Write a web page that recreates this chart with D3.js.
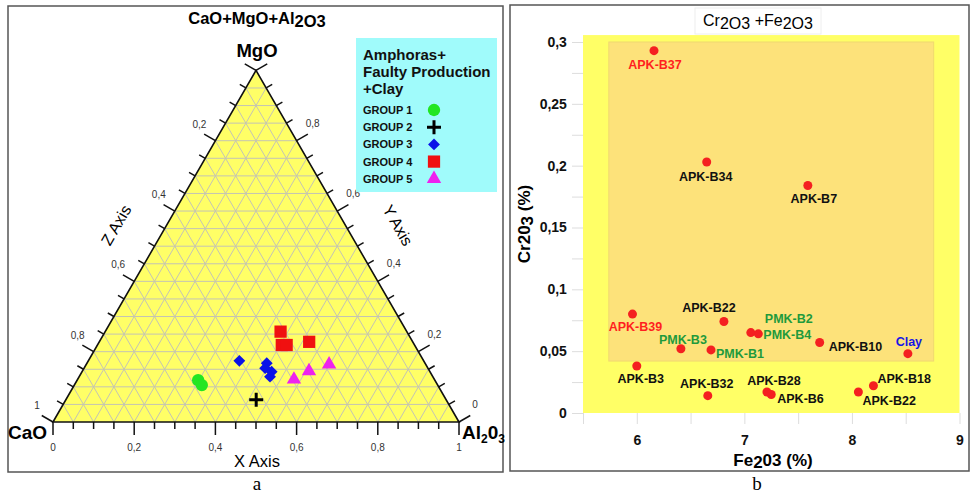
<!DOCTYPE html>
<html>
<head>
<meta charset="utf-8">
<script src="https://cdn.jsdelivr.net/npm/d3@7"></script>
<style>
  body { margin: 0; background: #fff; }
  svg { display: block; font-family: "Liberation Sans", Arial, sans-serif; }
</style>
</head>
<body>
<div id="chart"></div>
<script>
// ---- ternary data: [CaO, MgO, Al2O3] fractions ----
const group1 = [[0.583, 0.119, 0.298], [0.581, 0.105, 0.314]];
const group2 = [[0.468, 0.063, 0.469]];
const group3 = [[0.454, 0.174, 0.372], [0.390, 0.167, 0.443], [0.401, 0.153, 0.446], [0.390, 0.143, 0.467], [0.401, 0.129, 0.470]];
const group4 = [[0.311, 0.257, 0.432], [0.327, 0.219, 0.454], [0.315, 0.219, 0.466], [0.255, 0.228, 0.517]];
const group5 = [[0.346, 0.121, 0.533], [0.297, 0.145, 0.558], [0.238, 0.164, 0.598]];
const groupNames = ['GROUP 1', 'GROUP 2', 'GROUP 3', 'GROUP 4', 'GROUP 5'];
const ternTicks = [0, 0.2, 0.4, 0.6, 0.8, 1];

// ---- scatter data ----
const samples = ['APK-B37', 'APK-B34', 'APK-B7', 'APK-B39', 'APK-B22', 'PMK-B2', 'PMK-B4', 'APK-B10', 'Clay',
  'PMK-B3', 'PMK-B1', 'APK-B3', 'APK-B32', 'APK-B28', 'APK-B6', 'APK-B22', 'APK-B18'];
const fe2o3 = [6.16, 6.65, 7.59, 5.96, 6.81, 7.06, 7.13, 7.70, 8.52, 6.41, 6.69, 6.00, 6.66, 7.21, 7.25, 8.06, 8.20];
const cr2o3 = [0.293, 0.203, 0.184, 0.080, 0.074, 0.065, 0.064, 0.057, 0.048, 0.052, 0.051, 0.038, 0.014, 0.017, 0.015, 0.017, 0.022];
const sampleKind = ['red', 'black', 'black', 'red', 'black', 'green', 'green', 'black', 'blue',
  'green', 'green', 'black', 'black', 'black', 'black', 'black', 'black'];
const xTicks = [6, 7, 8, 9];
const yTicks = [0, 0.05, 0.1, 0.15, 0.2, 0.25, 0.3];

// label placement for each sample: [anchor, dx, dy]
const labelPlace = [
  ['middle', 1, 18], ['middle', -1, 19], ['middle', 6, 18], ['middle', 3, 17], ['middle', -15, -9],
  ['start', 14, -10], ['start', 5, 5], ['start', 9, 8], ['middle', 1, -8],
  ['middle', 2, -5], ['start', 5, 8], ['middle', 4, 17], ['middle', -1, -8], ['middle', 7, -7],
  ['start', 6, 9], ['start', 4, 13], ['start', 4, -3]
];

const kindColor = { red: '#ff1f1f', black: '#111', green: '#1f9a3c', blue: '#1515e6' };
const font = '"Liberation Sans", Arial, sans-serif';

const svg = d3.select('#chart').append('svg')
  .attr('width', 972)
  .attr('height', 493);

// panel frames
svg.append('rect').attr('x', 8).attr('y', 6).attr('width', 495).attr('height', 466)
  .attr('fill', 'none').attr('stroke', '#555').attr('stroke-width', 1.5);
svg.append('rect').attr('x', 510).attr('y', 5).attr('width', 459).attr('height', 466)
  .attr('fill', 'none').attr('stroke', '#555').attr('stroke-width', 1.5);
svg.append('text').attr('x', 257).attr('y', 490).attr('text-anchor', 'middle')
  .attr('font-family', '"Liberation Serif", "Times New Roman", serif').attr('font-size', 19).text('a');
svg.append('text').attr('x', 757).attr('y', 490).attr('text-anchor', 'middle')
  .attr('font-family', '"Liberation Serif", "Times New Roman", serif').attr('font-size', 19).text('b');

// ================= ternary =================
const tx = d3.scaleLinear().domain([0, 1]).range([53, 459]);
const ty = d3.scaleLinear().domain([0, 1]).range([422, 422 - 406 * Math.sqrt(3) / 2]);
// p = [CaO, MgO, Al2O3]
const tp = p => [tx(p[2] + p[1] / 2), ty(p[1])];

const tern = svg.append('g');

const lt = svg.append('text').attr('x', 257).attr('y', 24).attr('text-anchor', 'middle')
  .attr('font-size', 16.5).attr('font-weight', 'bold');
lt.append('tspan').text('CaO+MgO+Al');
lt.append('tspan').attr('dy', 3).text('2O3');

tern.append('path')
  .attr('d', d3.line()([tp([1, 0, 0]), tp([0, 1, 0]), tp([0, 0, 1])]) + 'Z')
  .attr('fill', '#ffff66');

// grid every 0.05
const gridVals = d3.range(1, 20).map(i => i / 20);
const gridSegs = [];
gridVals.forEach(v => {
  gridSegs.push([tp([1 - v, v, 0]), tp([0, v, 1 - v])]);
  gridSegs.push([tp([1 - v, 0, v]), tp([0, 1 - v, v])]);
  gridSegs.push([tp([v, 0, 1 - v]), tp([v, 1 - v, 0])]);
});
tern.append('g').selectAll('line').data(gridSegs).enter().append('line')
  .attr('x1', d => d[0][0]).attr('y1', d => d[0][1])
  .attr('x2', d => d[1][0]).attr('y2', d => d[1][1])
  .attr('stroke', '#c4c4b4').attr('stroke-width', 1);

tern.append('path')
  .attr('d', d3.line()([tp([1, 0, 0]), tp([0, 1, 0]), tp([0, 0, 1])]) + 'Z')
  .attr('fill', 'none').attr('stroke', '#111').attr('stroke-width', 1.6);

// ticks
const tickVals = d3.range(0, 21).map(i => i / 20);
const isMajor = v => Math.abs(v * 5 - Math.round(v * 5)) < 1e-6;
const c30 = Math.sqrt(3) / 2;
const tickG = tern.append('g').attr('stroke', '#111').attr('stroke-width', 1.5);
tickVals.forEach(v => {
  const len = isMajor(v) ? 13 : 7;
  // bottom (X axis: Al2O3)
  let p = tp([1 - v, 0, v]);
  tickG.append('line').attr('x1', p[0]).attr('y1', p[1]).attr('x2', p[0]).attr('y2', p[1] + len);
  // left (Z axis: CaO)
  p = tp([v, 1 - v, 0]);
  tickG.append('line').attr('x1', p[0]).attr('y1', p[1]).attr('x2', p[0] - c30 * len).attr('y2', p[1] - 0.5 * len);
  // right (Y axis: MgO)
  p = tp([0, v, 1 - v]);
  tickG.append('line').attr('x1', p[0]).attr('y1', p[1]).attr('x2', p[0] + c30 * len).attr('y2', p[1] - 0.5 * len);
});

const fmt = v => String(+v.toFixed(1)).replace('.', ',');
const tl = tern.append('g').attr('font-size', 10).attr('fill', '#333').attr('text-anchor', 'middle');
ternTicks.forEach(v => {
  let p = tp([1 - v, 0, v]);
  tl.append('text').attr('x', p[0]).attr('y', 451).text(fmt(v));
  if (v > 0) {
    p = tp([v, 1 - v, 0]);
    tl.append('text').attr('x', p[0] - 16).attr('y', p[1] - 13).text(fmt(v));
  }
  if (v < 1) {
    p = tp([0, v, 1 - v]);
    tl.append('text').attr('x', p[0] + 16).attr('y', p[1] - 14).text(fmt(v));
  }
});

// vertex and axis titles
tern.append('text').attr('x', 257).attr('y', 57).attr('text-anchor', 'middle')
  .attr('font-size', 18.5).attr('font-weight', 'bold').text('MgO');
tern.append('text').attr('x', 8).attr('y', 439)
  .attr('font-size', 19).attr('font-weight', 'bold').text('CaO');
const alT = tern.append('text').attr('x', 462).attr('y', 439)
  .attr('font-size', 19).attr('font-weight', 'bold');
alT.append('tspan').text('Al');
alT.append('tspan').attr('font-size', 12).attr('dy', 4).text('2');
alT.append('tspan').attr('dy', -4).text('0');
alT.append('tspan').attr('font-size', 12).attr('dy', 4).text('3');
tern.append('text').attr('x', 257).attr('y', 467).attr('text-anchor', 'middle')
  .attr('font-size', 16.5).text('X Axis');
tern.append('text').attr('transform', 'translate(121,228) rotate(-60)').attr('text-anchor', 'middle')
  .attr('font-size', 16).text('Z Axis');
tern.append('text').attr('transform', 'translate(393,228) rotate(60)').attr('text-anchor', 'middle')
  .attr('font-size', 16).text('Y Axis');

// markers
const markers = [
  { data: group1, type: d3.symbolCircle, size: 120, fill: '#22e622' },
  { data: group2, type: 'cross', size: 0, fill: '#000' },
  { data: group3, type: 'diamond', size: 70, fill: '#0a12e8' },
  { data: group4, type: d3.symbolSquare, size: 150, fill: '#f01010' },
  { data: group5, type: d3.symbolTriangle, size: 90, fill: '#ee22ee' }
];
const drawMarker = (g, m, x, y) => {
  if (m.type === 'cross') {
    g.append('path').attr('d', `M${x - 7},${y}H${x + 7}M${x},${y - 7}V${y + 7}`)
      .attr('stroke', m.fill).attr('stroke-width', 3);
  } else if (m.type === 'diamond') {
    g.append('path').attr('d', d3.symbol().type(d3.symbolSquare).size(m.size)())
      .attr('transform', `translate(${x},${y}) rotate(45)`).attr('fill', m.fill);
  } else {
    g.append('path').attr('d', d3.symbol().type(m.type).size(m.size)())
      .attr('transform', `translate(${x},${y})`).attr('fill', m.fill);
  }
};
const markG = tern.append('g');
markers.forEach(m => m.data.forEach(p => {
  const q = tp(p);
  drawMarker(markG, m, q[0], q[1]);
}));

// legend
const leg = svg.append('g');
leg.append('rect').attr('x', 356).attr('y', 38).attr('width', 141).attr('height', 154)
  .attr('fill', '#a0fbfb');
['Amphoras+', 'Faulty Production', '+Clay'].forEach((t, i) => {
  leg.append('text').attr('x', 363).attr('y', 60 + i * 17).attr('font-size', 15)
    .attr('font-weight', 'bold').attr('fill', '#111').text(t);
});
groupNames.forEach((g, i) => {
  const y = 110 + i * 17.2;
  leg.append('text').attr('x', 363).attr('y', y + 4).attr('font-size', 11)
    .attr('font-weight', 'bold').attr('fill', '#111').text(g);
  drawMarker(leg, markers[i], 434, y);
});

// ================= scatter =================
const x = d3.scaleLinear().domain([5.5, 9]).range([583, 959.5]);
const y = d3.scaleLinear().domain([0, 0.3]).range([413, 42]);

const sc = svg.append('g');
sc.append('rect').attr('x', x(5.5)).attr('y', y(0.3056)).attr('width', x(9) - x(5.5))
  .attr('height', y(0) - y(0.3056)).attr('fill', '#ffff66');
sc.append('rect').attr('x', x(5.74)).attr('y', y(0.3)).attr('width', x(8.76) - x(5.74))
  .attr('height', y(0.042) - y(0.3)).attr('fill', '#fde27a').attr('stroke', '#f0d870');

// axes with gray ticks
const xAxis = sc.append('g').attr('transform', `translate(0,${y(0)})`)
  .call(d3.axisBottom(x).tickValues(d3.range(5.5, 9.01, 0.5)).tickSize(11)
    .tickFormat(d => xTicks.includes(d) ? d : ''));
const yAxis = sc.append('g').attr('transform', `translate(${x(5.5)},0)`)
  .call(d3.axisLeft(y).tickValues(d3.range(0, 0.301, 0.025)).tickSize(11)
    .tickFormat(d => yTicks.some(t => Math.abs(t - d) < 1e-6) ? String(+d.toFixed(2)).replace('.', ',') : ''));
[xAxis, yAxis].forEach(a => {
  a.select('.domain').remove();
  a.selectAll('line').attr('stroke', '#ddd');
  a.selectAll('text').attr('font-family', font).attr('font-size', 14)
    .attr('font-weight', 'bold').attr('fill', '#111');
});
xAxis.selectAll('text').attr('dy', '1.3em');
yAxis.selectAll('text').attr('dx', '-0.15em');

// title box
sc.append('rect').attr('x', 695).attr('y', 8).attr('width', 126).attr('height', 26)
  .attr('fill', '#fff').attr('stroke', '#eee');
const rt = sc.append('text').attr('x', 758).attr('y', 26).attr('text-anchor', 'middle').attr('font-size', 16);
rt.append('tspan').text('Cr');
rt.append('tspan').attr('dy', 3).text('2O3');
rt.append('tspan').attr('dy', -3).text(' +Fe');
rt.append('tspan').attr('dy', 3).text('2O3');

const xl = sc.append('text').attr('x', 773).attr('y', 466).attr('text-anchor', 'middle')
  .attr('font-size', 17).attr('font-weight', 'bold');
xl.append('tspan').text('Fe');
xl.append('tspan').attr('dy', 2).text('2');
xl.append('tspan').attr('dy', -2).text('03 (%)');

const yl = sc.append('text').attr('transform', 'translate(530,224) rotate(-90)').attr('text-anchor', 'middle')
  .attr('font-size', 17).attr('font-weight', 'bold');
yl.append('tspan').text('Cr20');
yl.append('tspan').attr('dy', 3).text('3');
yl.append('tspan').attr('dy', -3).text(' (%)');

// points and labels
sc.append('g').selectAll('circle').data(samples).enter().append('circle')
  .attr('cx', (d, i) => x(fe2o3[i])).attr('cy', (d, i) => y(cr2o3[i]))
  .attr('r', 4.5).attr('fill', '#f42020');
sc.append('g').selectAll('text').data(samples).enter().append('text')
  .attr('x', (d, i) => x(fe2o3[i]) + labelPlace[i][1])
  .attr('y', (d, i) => y(cr2o3[i]) + labelPlace[i][2])
  .attr('text-anchor', (d, i) => labelPlace[i][0])
  .attr('font-size', 12.5).attr('font-weight', 'bold')
  .attr('fill', (d, i) => kindColor[sampleKind[i]])
  .text(d => d);
</script>
</body>
</html>
